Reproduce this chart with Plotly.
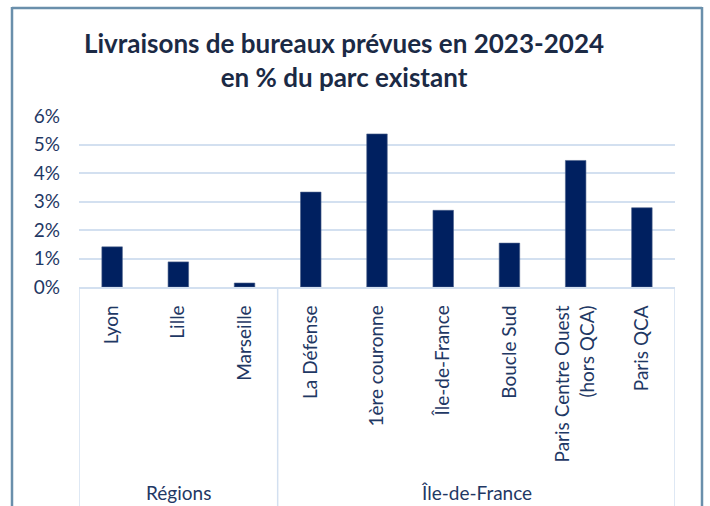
import plotly.graph_objects as go

categories = ["Lyon", "Lille", "Marseille", "La Défense", "1ère couronne",
              "Île-de-France", "Boucle Sud", "Paris Centre Ouest<br>(hors QCA)", "Paris QCA"]
values = [1.41, 0.88, 0.14, 3.33, 5.37, 2.69, 1.54, 4.44, 2.78]
groups = ["Régions", "Île-de-France"]
group_sizes = [3, 6]
y_ticks = [0, 1, 2, 3, 4, 5, 6]
y_labels = ["0%", "1%", "2%", "3%", "4%", "5%", "6%"]

FONT = "Lato, Open Sans, sans-serif"
TXT = "#1f3864"
GRID = "#d3e0f0"

xpos = list(range(len(categories)))

fig = go.Figure()
fig.add_trace(go.Bar(
    x=xpos, y=values, width=0.31,
    marker=dict(color="#002060", line=dict(color="#4a5f8a", width=0.6)),
    hoverinfo="skip",
))

L, R, T, B = 79, 35, 116, 219
W, H = 710, 506
pw, ph = W - L - R, H - T - B

def px_x(p):
    return (p - L) / pw

def px_y(p):
    return (H - B - p) / ph

shapes = []
border = dict(color="#6a8fab", width=2.5)
shapes.append(dict(type="line", xref="paper", yref="paper",
                   x0=px_x(12), x1=px_x(702), y0=px_y(8), y1=px_y(8), line=border))
shapes.append(dict(type="line", xref="paper", yref="paper",
                   x0=px_x(12), x1=px_x(12), y0=px_y(7), y1=px_y(530), line=border))
shapes.append(dict(type="line", xref="paper", yref="paper",
                   x0=px_x(702), x1=px_x(702), y0=px_y(7), y1=px_y(530), line=border))
# category box dividers
n = len(categories)
bounds = [-0.5]
acc = -0.5
for s in group_sizes:
    acc += s
    bounds.append(acc)
for b in bounds:
    shapes.append(dict(type="line", xref="x", yref="paper",
                       x0=b, x1=b, y0=0, y1=px_y(530),
                       line=dict(color=GRID, width=1.5)))

annotations = []
start = -0.5
for g, s in zip(groups, group_sizes):
    annotations.append(dict(x=start + s / 2, y=px_y(492), xref="x", yref="paper",
                            xanchor="center", yanchor="middle",
                            text=g, showarrow=False,
                            font=dict(family=FONT, size=19, color=TXT)))
    start += s

fig.update_layout(
    width=W, height=H,
    margin=dict(l=L, r=R, t=T, b=B),
    paper_bgcolor="white", plot_bgcolor="white",
    showlegend=False,
    title=dict(text="<b>Livraisons de bureaux prévues en 2023-2024<br>en % du parc existant</b>",
               x=344 / W, xanchor="center", y=1 - 53 / H, yanchor="top",
               font=dict(family=FONT, size=26, color="#1b2a45")),
    xaxis=dict(range=[-0.5, n - 0.5], tickmode="array", tickvals=xpos, ticktext=categories,
               tickangle=-90, showgrid=False, zeroline=False,
               showline=True, linecolor=GRID, linewidth=1.5,
               ticks="", ticklen=0, ticklabelstandoff=9,
               tickfont=dict(family=FONT, size=19, color=TXT)),
    yaxis=dict(range=[0, 6], tickmode="array", tickvals=y_ticks, ticktext=y_labels,
               showgrid=True, gridcolor=GRID, gridwidth=1.5, zeroline=False,
               showline=False, ticks="", ticklen=0, ticklabelstandoff=18,
               tickfont=dict(family=FONT, size=19, color=TXT)),
    shapes=shapes, annotations=annotations,
    bargap=0.6,
)

fig.write_html("out.html", config={"displayModeBar": False},
               post_script="document.body.style.margin='0';document.body.style.overflow='hidden';")
